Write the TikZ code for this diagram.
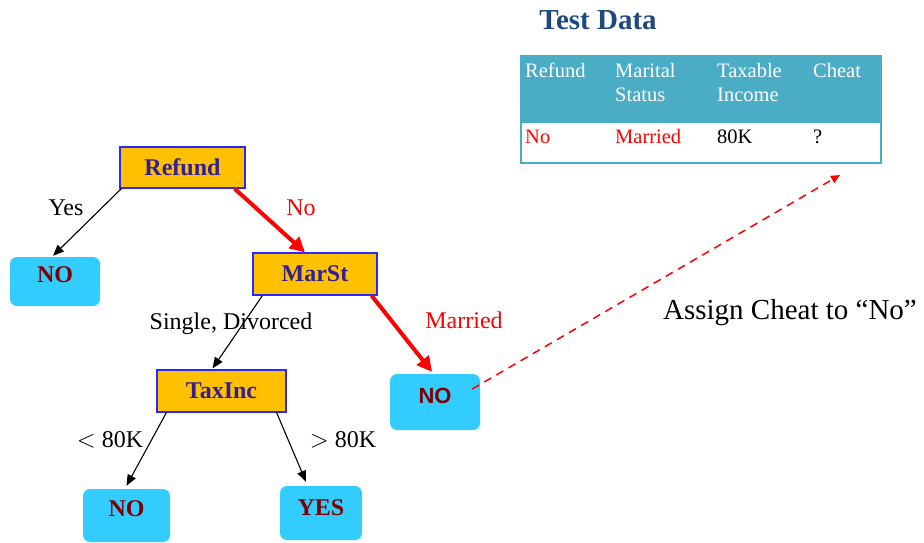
\documentclass[tikz,border=0pt]{standalone}
\usepackage{fontspec}
\setmainfont{Liberation Serif}
\newfontfamily\arialfont{Liberation Sans}
\usetikzlibrary{arrows.meta,calc}
\definecolor{gold}{RGB}{255,192,0}
\definecolor{boxblue}{RGB}{40,40,255}
\definecolor{indig}{RGB}{51,30,150}
\definecolor{leafcyan}{RGB}{51,204,255}
\definecolor{leafred}{RGB}{128,0,0}
\definecolor{teal}{RGB}{75,172,198}
\definecolor{titleblue}{RGB}{31,73,125}
\tikzset{
  testbox/.style={draw=boxblue, line width=1.2pt, fill=gold, text=indig, font=\fontsize{24}{28}\selectfont\bfseries, inner sep=0pt},
  leafbox/.style={fill=leafcyan, rounded corners=7pt, text=leafred, font=\fontsize{24}{28}\selectfont\bfseries, inner sep=0pt, text height=16pt, text depth=14pt},
  thinarrow/.style={draw=black, line width=1.1pt, -{Triangle[length=11pt,width=9pt]}},
  thickarrow/.style={draw=red, line width=4pt, -{Triangle[length=15pt,width=15pt]}},
  edgelabel/.style={font=\fontsize{24}{28}\selectfont, inner sep=0pt},
  hdr/.style={anchor=base west, text=white, font=\fontsize{20.5}{24}\selectfont, inner sep=0pt},
  cellt/.style={anchor=base west, font=\fontsize{20.5}{24}\selectfont, inner sep=0pt}
}
\begin{document}
\begin{tikzpicture}[x=1pt,y=-1pt]
\useasboundingbox (0,0) rectangle (924,542);
% title
\node[text=titleblue, font=\fontsize{29}{32}\selectfont\bfseries, inner sep=0pt] (title) at (598,20) {Test Data};
% table
\fill[teal] (521,56) rectangle (881,123);
\draw[teal, line width=2pt] (521,56) rectangle (881,163);
\node[hdr] (h1) at (525,77) {Refund};
\node[hdr] (h2a) at (615,77) {Marital};
\node[hdr] (h2b) at (615,101) {Status};
\node[hdr] (h3a) at (717,77) {Taxable};
\node[hdr] (h3b) at (717,101) {Income};
\node[hdr] (h4) at (813,77) {Cheat};
\node[cellt, text=red] (c1) at (525,143) {No};
\node[cellt, text=red] (c2) at (615,143) {Married};
\node[cellt] (c3) at (717,143) {80K};
\node[cellt] (c4) at (813,143) {?};
% tree nodes
\node[testbox, minimum width=125pt, minimum height=41pt] (refund) at (182.5,167.5) {Refund};
\node[leafbox, minimum width=90pt, minimum height=49pt] (noL) at (55,281.5) {NO};
\node[testbox, minimum width=124pt, minimum height=42pt] (marst) at (315,274) {MarSt};
\node[testbox, minimum width=129pt, minimum height=42pt] (taxinc) at (221.5,391) {TaxInc};
\node[leafbox, minimum width=90pt, minimum height=56pt, font=\arialfont\fontsize{22}{26}\selectfont\bfseries] (noM) at (435,402) {NO};
\node[leafbox, minimum width=87pt, minimum height=53pt] (noB) at (126.5,515.5) {NO};
\node[leafbox, minimum width=82pt, minimum height=54pt, text depth=11pt] (yes) at (321,513) {YES};
% connectors
\draw[thinarrow] ($(refund.south west)+(2,0)$) -- ($(noL.north)+(-2,-1)$);
\draw[thickarrow] ($(refund.south east)+(-11,0)$) -- ($(marst.north)+(-10,0)$);
\draw[thinarrow] ($(marst.south west)+(10,0)$) -- ($(taxinc.north)+(-9,-1)$);
\draw[thickarrow] ($(marst.south east)+(-6,0)$) -- ($(noM.north)+(-3,-2)$);
\draw[thinarrow] ($(taxinc.south west)+(10,0)$) -- ($(noB.north)+(0,-3)$);
\draw[thinarrow] ($(taxinc.south east)+(-10,0)$) -- ($(yes.north)+(-15,-4)$);
\coordinate (tgt) at (840,175);
\draw[red, line width=1.5pt, dash pattern=on 8pt off 6pt, -{Triangle[length=9pt,width=8pt]}] ($(noM.east)+(-8,-13)$) -- (tgt);
% labels
\node[edgelabel] (lyes) at (66,208) {Yes};
\node[edgelabel, text=red] (lno) at (301,208) {No};
\node[edgelabel] (lsd) at (231,324) {Single, Divorced};
\node[edgelabel, text=red] (lmar) at (464,320) {Married};
\node[edgelabel] (llt) at (110,440) {$<$ 80K};
\node[edgelabel] (lgt) at (343,440) {$>$ 80K};
\node[font=\fontsize{29}{32}\selectfont, inner sep=0pt] (assign) at (790,313) {Assign Cheat to “No”};
\end{tikzpicture}
\end{document}
